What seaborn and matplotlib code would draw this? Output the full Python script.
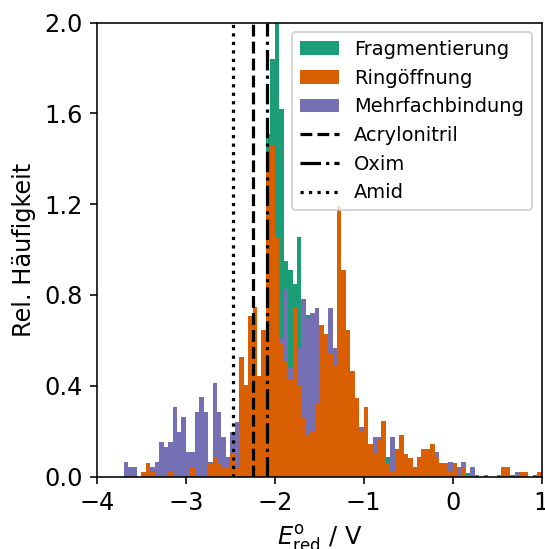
import numpy as np
import pandas as pd
import matplotlib
matplotlib.use("Agg")
import matplotlib.pyplot as plt
import seaborn as sns
from matplotlib.patches import Patch
from matplotlib.lines import Line2D

# ---- data: bin edges from -4 to 1 with width 0.05 (100 bins), densities per bin ----
bin_edges = [round(-4.0 + 0.05 * i, 3) for i in range(101)]
bin_centers = [round(-4.0 + 0.05 * i + 0.025, 4) for i in range(100)]

# sparse values {bin index: density}
fragmentierung_vals = {
    34: 0.20, 35: 0.30, 36: 0.35, 37: 0.55, 38: 1.51, 39: 1.84, 40: 2.20, 41: 1.62,
    42: 0.95, 43: 0.91, 44: 0.85, 45: 1.055, 46: 0.50, 47: 0.71, 48: 0.55, 49: 0.50,
    50: 0.45, 51: 0.40, 52: 0.35, 53: 0.30, 54: 0.30, 55: 0.25, 56: 0.20, 57: 0.15,
    58: 0.12, 59: 0.10, 60: 0.10, 61: 0.08, 62: 0.06, 63: 0.05, 64: 0.05, 65: 0.087,
    83: 0.015, 84: 0.007, 85: 0.007, 87: 0.007, 90: 0.007, 93: 0.007, 98: 0.007,
}
ringoeffnung_vals = {
    10: 0.020, 11: 0.059, 12: 0.020, 16: 0.020, 21: 0.042, 25: 0.059, 26: 0.081,
    27: 0.059, 28: 0.042, 29: 0.042, 30: 0.100, 31: 0.042, 32: 0.528, 33: 0.403,
    34: 0.708, 35: 0.745, 36: 0.444, 37: 0.645, 38: 1.35, 39: 1.456, 40: 1.05,
    41: 0.590, 42: 0.506, 43: 0.428, 44: 0.745, 45: 0.403, 46: 0.262, 47: 0.183,
    48: 0.202, 49: 0.324, 50: 0.669, 51: 0.628, 52: 0.545, 53: 0.488, 54: 1.19,
    55: 0.911, 56: 0.645, 57: 0.465, 58: 0.344, 59: 0.200, 60: 0.300, 61: 0.143,
    62: 0.102, 63: 0.161, 64: 0.246, 65: 0.061, 66: 0.021, 67: 0.121, 68: 0.183,
    69: 0.099, 70: 0.081, 71: 0.042, 72: 0.081, 73: 0.121, 74: 0.121, 75: 0.143,
    76: 0.081, 77: 0.059, 78: 0.059, 79: 0.020, 80: 0.059, 82: 0.042, 91: 0.042,
    92: 0.042, 95: 0.020, 96: 0.020, 99: 0.020,
}
mehrfachbindung_vals = {
    6: 0.064, 7: 0.042, 8: 0.042, 12: 0.042, 13: 0.064, 14: 0.152, 15: 0.130,
    16: 0.152, 17: 0.306, 18: 0.196, 19: 0.262, 20: 0.108, 21: 0.108, 22: 0.284,
    23: 0.350, 24: 0.284, 25: 0.064, 26: 0.413, 27: 0.284, 28: 0.174, 29: 0.086,
    30: 0.196, 31: 0.240, 32: 0.15, 33: 0.12, 34: 0.18, 35: 0.20, 36: 0.22,
    37: 0.30, 38: 0.35, 39: 0.45, 40: 0.55, 41: 0.611, 42: 0.825, 43: 0.479,
    44: 0.60, 45: 0.567, 46: 0.782, 47: 0.700, 48: 0.722, 49: 0.742, 50: 0.60,
    51: 0.55, 52: 0.742, 53: 0.566, 54: 0.45, 55: 0.40, 56: 0.35, 57: 0.30,
    58: 0.25, 59: 0.218, 60: 0.306, 61: 0.12, 62: 0.174, 63: 0.174, 64: 0.15,
    65: 0.05, 66: 0.174, 67: 0.08, 68: 0.10, 69: 0.06, 70: 0.05, 71: 0.03,
    72: 0.085, 73: 0.06, 74: 0.05, 75: 0.04, 76: 0.108, 77: 0.03, 78: 0.03,
    79: 0.064, 80: 0.03, 81: 0.042, 82: 0.064, 84: 0.042, 94: 0.020,
}

series_names = ["Fragmentierung", "Ringöffnung", "Mehrfachbindung"]
reference_names = ["Acrylonitril", "Oxim", "Amid"]
reference_values = [-2.24, -2.09, -2.47]
reference_styles = ["--", "-.", ":"]


def dense(d):
    return [float(d.get(k, 0.0)) for k in range(len(bin_centers))]


df = pd.DataFrame({
    "E": bin_centers,
    "Fragmentierung": dense(fragmentierung_vals),
    "Ringöffnung": dense(ringoeffnung_vals),
    "Mehrfachbindung": dense(mehrfachbindung_vals),
})

pal = sns.color_palette("Dark2", 3)
colors = {"Fragmentierung": pal[0], "Ringöffnung": pal[1], "Mehrfachbindung": pal[2]}

fig = plt.figure(figsize=(545 / 144, 549 / 144), dpi=144)
ax = fig.add_axes([97 / 545, 1 - 476.5 / 549, (541.5 - 97) / 545, (476.5 - 22.5) / 549])

# drawing order: green bottom, purple middle, orange on top
for name in ["Fragmentierung", "Mehrfachbindung", "Ringöffnung"]:
    sns.histplot(data=df, x="E", weights=name, bins=bin_edges, stat="count",
                 color=colors[name], alpha=1.0, linewidth=0, edgecolor="none", ax=ax)

for name, val, ls in zip(reference_names, reference_values, reference_styles):
    ax.axvline(val, color="black", ls=ls, lw=1.6)

ax.set_xlim(-4, 1)
ax.set_ylim(0, 2.0)
ax.set_xticks([-4, -3, -2, -1, 0, 1])
ax.set_yticks([0.0, 0.4, 0.8, 1.2, 1.6, 2.0])
ax.set_yticklabels(["0.0", "0.4", "0.8", "1.2", "1.6", "2.0"])
ax.tick_params(labelsize=12)
ax.set_xlabel(r"$E^{\mathrm{o}}_{\mathrm{red}}$ / V", fontsize=12)
ax.set_ylabel("Rel. Häufigkeit", fontsize=12)

handles = [Patch(facecolor=colors[n], label=n) for n in series_names]
handles += [Line2D([0], [0], color="black", ls=ls, lw=1.6, label=n)
            for n, ls in zip(reference_names, reference_styles)]
ax.legend(handles=handles, loc="upper right", fontsize=9.7)

fig.savefig("out.png", dpi=144)
